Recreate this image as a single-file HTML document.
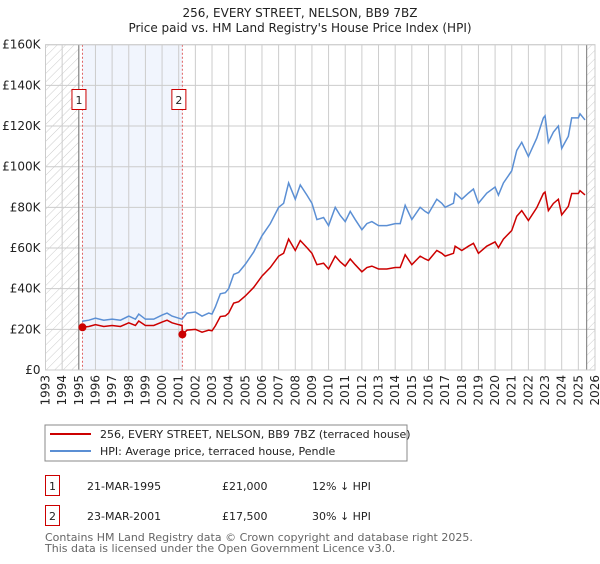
<!DOCTYPE html>
<html><head><meta charset="utf-8"><style>
body{margin:0;background:#fff;width:600px;height:560px;overflow:hidden;font-family:"DejaVu Sans","Liberation Sans",sans-serif;}
svg text{font-family:"DejaVu Sans","Liberation Sans",sans-serif;}
</style></head><body>
<svg id="chart" width="600" height="560" xmlns="http://www.w3.org/2000/svg">
<defs><pattern id="hatch" width="6" height="6" patternUnits="userSpaceOnUse" patternTransform="rotate(45)"><line x1="0" y1="0" x2="0" y2="6" stroke="#ccc" stroke-width="1"/></pattern></defs>
<text x="300" y="17" text-anchor="middle" font-size="12" fill="#222">256, EVERY STREET, NELSON, BB9 7BZ</text>
<text x="300" y="32" text-anchor="middle" font-size="12" fill="#222">Price paid vs. HM Land Registry's House Price Index (HPI)</text>
<g id="bg"></g><g id="grid"></g><g id="marks"></g><g id="axes"></g>
<rect x="45" y="425" width="362" height="36" fill="#fff" stroke="#888"/>
<line x1="50" y1="434" x2="91" y2="434" stroke="#cc0000" stroke-width="2"/>
<text x="100" y="438" font-size="11" fill="#222">256, EVERY STREET, NELSON, BB9 7BZ (terraced house)</text>
<line x1="50" y1="451" x2="91" y2="451" stroke="#5b8fd4" stroke-width="2"/>
<text x="100" y="455" font-size="11" fill="#222">HPI: Average price, terraced house, Pendle</text>
<g>
<rect x="45.5" y="475.5" width="14" height="20" fill="#fff" stroke="#cc0000"/><text x="52.5" y="490" text-anchor="middle" font-size="11" fill="#222">1</text>
<text x="87" y="490" font-size="11" fill="#222">21-MAR-1995</text><text x="222" y="490" font-size="11" fill="#222">£21,000</text><text x="312" y="490" font-size="11" fill="#222">12% ↓ HPI</text></g>
<g>
<rect x="45.5" y="505.5" width="14" height="20" fill="#fff" stroke="#cc0000"/><text x="52.5" y="520" text-anchor="middle" font-size="11" fill="#222">2</text>
<text x="87" y="520" font-size="11" fill="#222">23-MAR-2001</text><text x="222" y="520" font-size="11" fill="#222">£17,500</text><text x="312" y="520" font-size="11" fill="#222">30% ↓ HPI</text></g>
<text x="45" y="541" font-size="11" fill="#666">Contains HM Land Registry data © Crown copyright and database right 2025.</text>
<text x="45" y="552" font-size="11" fill="#666">This data is licensed under the Open Government Licence v3.0.</text>
</svg>
<script>
const hpiYears=[1995.2,1995.6,1996,1996.5,1997,1997.5,1998,1998.4,1998.6,1999,1999.5,2000,2000.3,2000.6,2001,2001.2,2001.5,2002,2002.4,2002.8,2003,2003.2,2003.5,2003.8,2004,2004.3,2004.6,2005,2005.5,2006,2006.5,2007,2007.3,2007.6,2008,2008.3,2008.7,2009,2009.3,2009.7,2010,2010.4,2010.7,2011,2011.3,2011.6,2012,2012.3,2012.6,2013,2013.5,2014,2014.3,2014.6,2015,2015.5,2015.8,2016,2016.5,2016.8,2017,2017.5,2017.6,2018,2018.4,2018.7,2019,2019.5,2020,2020.2,2020.5,2021,2021.3,2021.6,2022,2022.5,2022.9,2023,2023.2,2023.5,2023.8,2024,2024.4,2024.6,2025,2025.1,2025.4];
const hpiValues=[24,24.5,25.5,24.5,25,24.5,26.5,25,27.5,25,25,27,28,26.5,25.5,25,28,28.5,26.5,28,27.5,31,37.5,38,40,47,48,52,58,66,72,80,82,92,84,91,86,82,74,75,71,80,76,73,78,74,69,72,73,71,71,72,72,81,74,80,78,77,84,82,80,82,87,84,87,89,82,87,90,86,92,98,108,112,105,114,124,125,112,117,120,109,115,124,124,126,123];
const priceYears=[1995.22,1995.6,1996,1996.5,1997,1997.5,1998,1998.4,1998.6,1999,1999.5,2000,2000.3,2000.6,2001,2001.2,2001.22,2001.5,2002,2002.4,2002.8,2003,2003.2,2003.5,2003.8,2004,2004.3,2004.6,2005,2005.5,2006,2006.5,2007,2007.3,2007.6,2008,2008.3,2008.7,2009,2009.3,2009.7,2010,2010.4,2010.7,2011,2011.3,2011.6,2012,2012.3,2012.6,2013,2013.5,2014,2014.3,2014.6,2015,2015.5,2015.8,2016,2016.5,2016.8,2017,2017.5,2017.6,2018,2018.4,2018.7,2019,2019.5,2020,2020.2,2020.5,2021,2021.3,2021.6,2022,2022.5,2022.9,2023,2023.2,2023.5,2023.8,2024,2024.4,2024.6,2025,2025.1,2025.4];
const priceValues=[21,21.4,22.3,21.4,21.9,21.4,23.2,21.9,24.1,21.9,21.9,23.6,24.5,23.2,22.3,21.9,17.5,19.6,20,18.6,19.6,19.3,21.7,26.3,26.6,28,32.9,33.6,36.4,40.6,46.2,50.4,56,57.4,64.4,58.8,63.7,60.2,57.4,51.8,52.5,49.7,56,53.2,51.1,54.6,51.8,48.3,50.4,51.1,49.7,49.7,50.4,50.4,56.7,51.8,56,54.6,53.9,58.8,57.4,56,57.4,60.9,58.8,60.9,62.3,57.4,60.9,63,60.2,64.4,68.6,75.6,78.4,73.5,79.8,86.8,87.5,78.4,81.9,84,76.3,80.5,86.8,86.8,88.2,86.1];
const saleYears=[1995.22,2001.22];
const saleValues=[21,17.5];
const saleLabels=["1","2"];
const yTicks=[0,20,40,60,80,100,120,140,160];
const yTickLabels=["£0","£20K","£40K","£60K","£80K","£100K","£120K","£140K","£160K"];
const xTicks=[1993,1994,1995,1996,1997,1998,1999,2000,2001,2002,2003,2004,2005,2006,2007,2008,2009,2010,2011,2012,2013,2014,2015,2016,2017,2018,2019,2020,2021,2022,2023,2024,2025,2026];

const NS="http://www.w3.org/2000/svg";
const L=45.5,R=595,T=44.7,B=370;
const xs=y=>L+(y-1993)/(2026-1993)*(R-L);
const ys=v=>B-v/160*(B-T);
function mk(tag,attrs,parent){const e=document.createElementNS(NS,tag);for(const k in attrs)e.setAttribute(k,attrs[k]);document.getElementById(parent).appendChild(e);return e;}
let e;
e=mk('rect',{x:L,y:T,width:xs(1995)-L,height:B-T,fill:'url(#hatch)'},'bg');


e=mk('rect',{x:xs(2025.5),y:T,width:R-xs(2025.5),height:B-T,fill:'url(#hatch)'},'bg');


e=mk('rect',{x:xs(saleYears[0]),y:T,width:xs(saleYears[1])-xs(saleYears[0]),height:B-T,fill:'#eef3fc',opacity:0.8},'bg');


yTicks.forEach((v,i)=>{
 e=mk('line',{x1:L,x2:R,y1:ys(v),y2:ys(v),stroke:'#ccc'},'grid');
 
 
 e=mk('text',{x:L-5,y:ys(v)+4,'text-anchor':'end','font-size':12,fill:'#222'},'axes');e.textContent=yTickLabels[i];
 
 
});
xTicks.forEach(y=>{
 e=mk('line',{x1:xs(y),x2:xs(y),y1:T,y2:B,stroke:'#ccc'},'grid');
 
 
 const x=xs(y)+4;
 e=mk('text',{x:x,y:B+5,'text-anchor':'end','font-size':12,fill:'#222',transform:`rotate(-90 ${x} ${B+5})`},'axes');e.textContent=y;
 
 
});
e=mk('line',{x1:xs(1995),x2:xs(1995),y1:T,y2:B,stroke:'#777'},'grid');


e=mk('line',{x1:xs(2025.5),x2:xs(2025.5),y1:T,y2:B,stroke:'#777'},'grid');


e=mk('rect',{x:L,y:T,width:R-L,height:B-T,fill:'none',stroke:'#ccc'},'axes');


saleYears.forEach((y,i)=>{
 e=mk('line',{x1:xs(y),x2:xs(y),y1:T,y2:B,stroke:'#e06060','stroke-dasharray':'2,2'},'marks');
 
 
 const g=mk('g',{},'marks');
 
 
 const bx=xs(y)-3.5;
 const r=document.createElementNS(NS,'rect');r.setAttribute('x',bx-7);r.setAttribute('y',89.5);r.setAttribute('width',14);r.setAttribute('height',20);r.setAttribute('fill','#fff');r.setAttribute('stroke','#cc0000');g.appendChild(r);
 const t=document.createElementNS(NS,'text');t.setAttribute('x',bx);t.setAttribute('y',104);t.setAttribute('text-anchor','middle');t.setAttribute('font-size',11);t.setAttribute('fill','#222');t.textContent=saleLabels[i];g.appendChild(t);
});
e=mk('polyline',{points:hpiYears.map((y,i)=>xs(y)+','+ys(hpiValues[i])).join(' '),fill:'none',stroke:'#5b8fd4','stroke-width':1.5},'marks');


e=mk('polyline',{points:priceYears.map((y,i)=>xs(y)+','+ys(priceValues[i])).join(' '),fill:'none',stroke:'#cc0000','stroke-width':1.5},'marks');


saleYears.forEach((y,i)=>{
 e=mk('circle',{cx:xs(y),cy:ys(saleValues[i]),r:4,fill:'#cc0000'},'marks');
 
 
});
</script>
</body></html>
